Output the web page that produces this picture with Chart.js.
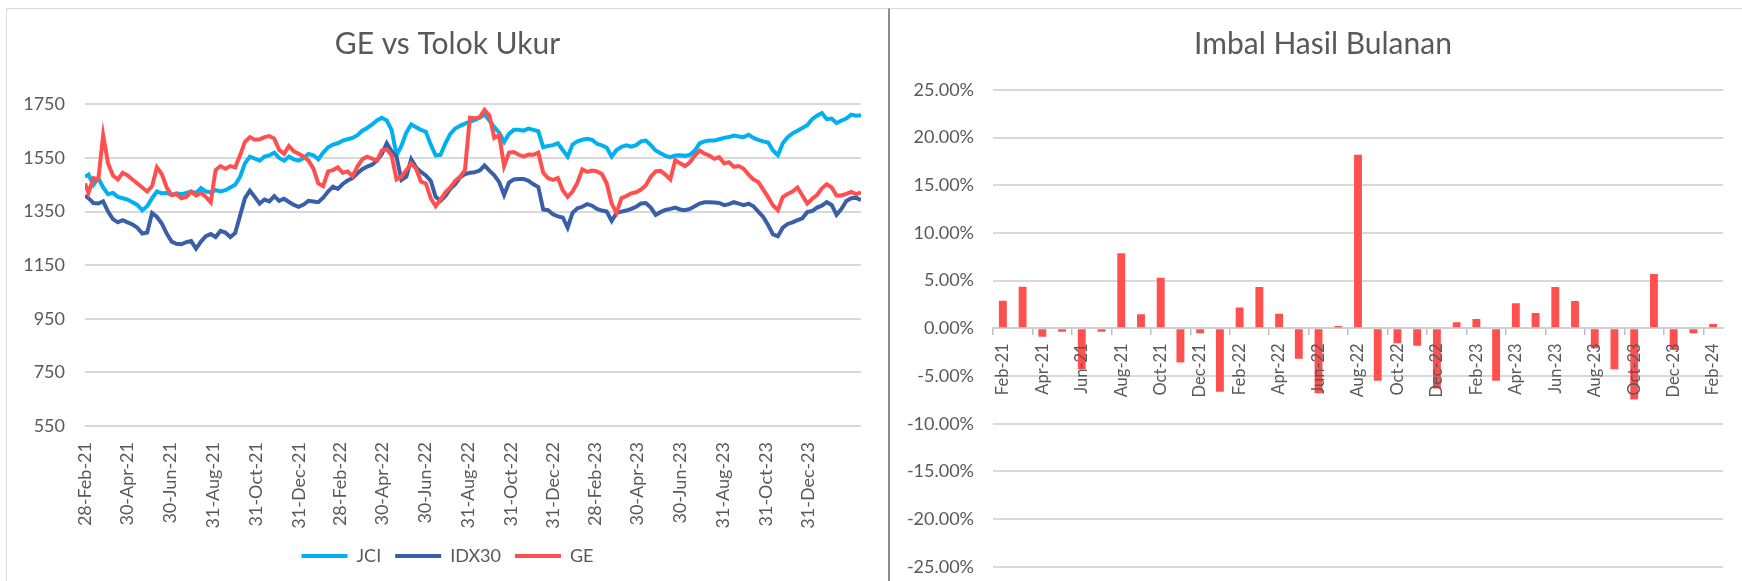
<!DOCTYPE html>
<html>
<head>
<meta charset="utf-8">
<title>GE vs Tolok Ukur</title>
<script src="https://cdn.jsdelivr.net/npm/chart.js@4.4.1/dist/chart.umd.min.js"></script>
<style>
  html, body { margin: 0; padding: 0; background: #fff; }
  body { width: 1742px; height: 581px; overflow: hidden; position: relative; }
  .panel { position: absolute; top: 8px; height: 700px; border-top: 1px solid #d9d9d9; background: #fff; }
  #leftPanel { left: 6px; width: 881px; border-left: 1px solid #d9d9d9; border-right: 1px solid #8c8c8c; }
  #rightPanel { left: 889px; width: 852px; border-left: 1px solid #8c8c8c; }
  canvas { display: block; }
</style>
</head>
<body>
<div class="panel" id="leftPanel"><canvas id="lineChart" width="881" height="572"></canvas></div>
<div class="panel" id="rightPanel"><canvas id="barChart" width="852" height="572"></canvas></div>
<script>
// weekly closes (first point = axis start)
const startDate = '2021-02-28';
const dates = ['2021-02-28',
  '2021-03-05','2021-03-12','2021-03-19','2021-03-26','2021-04-02','2021-04-09','2021-04-16','2021-04-23','2021-04-30','2021-05-07',
  '2021-05-14','2021-05-21','2021-05-28','2021-06-04','2021-06-11','2021-06-18','2021-06-25','2021-07-02','2021-07-09','2021-07-16',
  '2021-07-23','2021-07-30','2021-08-06','2021-08-13','2021-08-20','2021-08-27','2021-09-03','2021-09-10','2021-09-17','2021-09-24',
  '2021-10-01','2021-10-08','2021-10-15','2021-10-22','2021-10-29','2021-11-05','2021-11-12','2021-11-19','2021-11-26','2021-12-03',
  '2021-12-10','2021-12-17','2021-12-24','2021-12-31','2022-01-07','2022-01-14','2022-01-21','2022-01-28','2022-02-04','2022-02-11',
  '2022-02-18','2022-02-25','2022-03-04','2022-03-11','2022-03-18','2022-03-25','2022-04-01','2022-04-08','2022-04-15','2022-04-22',
  '2022-04-29','2022-05-06','2022-05-13','2022-05-20','2022-05-27','2022-06-03','2022-06-10','2022-06-17','2022-06-24','2022-07-01',
  '2022-07-08','2022-07-15','2022-07-22','2022-07-29','2022-08-05','2022-08-12','2022-08-19','2022-08-26','2022-09-02','2022-09-09',
  '2022-09-16','2022-09-23','2022-09-30','2022-10-07','2022-10-14','2022-10-21','2022-10-28','2022-11-04','2022-11-11','2022-11-18',
  '2022-11-25','2022-12-02','2022-12-09','2022-12-16','2022-12-23','2022-12-30','2023-01-06','2023-01-13','2023-01-20','2023-01-27',
  '2023-02-03','2023-02-10','2023-02-17','2023-02-24','2023-03-03','2023-03-10','2023-03-17','2023-03-24','2023-03-31','2023-04-07',
  '2023-04-14','2023-04-21','2023-04-28','2023-05-05','2023-05-12','2023-05-19','2023-05-26','2023-06-02','2023-06-09','2023-06-16',
  '2023-06-23','2023-06-30','2023-07-07','2023-07-14','2023-07-21','2023-07-28','2023-08-04','2023-08-11','2023-08-18','2023-08-25',
  '2023-09-01','2023-09-08','2023-09-15','2023-09-22','2023-09-29','2023-10-06','2023-10-13','2023-10-20','2023-10-27','2023-11-03',
  '2023-11-10','2023-11-17','2023-11-24','2023-12-01','2023-12-08','2023-12-15','2023-12-22','2023-12-29','2024-01-05','2024-01-12',
  '2024-01-19','2024-01-26','2024-02-02','2024-02-09','2024-02-16','2024-02-23','2024-03-01','2024-03-08','2024-03-15'];

const jci = [1480,
  1488,1450,1475,1440,1415,1420,1405,1400,1395,1385,
  1375,1355,1370,1400,1425,1418,1420,1412,1418,1415,
  1420,1425,1420,1438,1425,1422,1430,1425,1430,1440,
  1450,1480,1530,1555,1548,1540,1555,1560,1570,1550,
  1540,1555,1545,1540,1550,1565,1560,1545,1570,1590,
  1600,1605,1615,1620,1625,1635,1652,1662,1675,1690,
  1700,1690,1655,1560,1595,1645,1675,1665,1655,1648,
  1600,1560,1562,1605,1640,1660,1670,1678,1685,1692,
  1700,1712,1690,1665,1645,1610,1640,1655,1655,1652,
  1660,1655,1650,1590,1595,1598,1605,1580,1555,1600,
  1612,1618,1622,1618,1603,1597,1588,1555,1580,1592,
  1597,1592,1598,1612,1615,1598,1578,1568,1558,1553,
  1559,1560,1558,1562,1578,1605,1612,1615,1615,1620,
  1625,1628,1634,1630,1628,1637,1625,1618,1612,1608,
  1578,1560,1605,1628,1642,1652,1662,1672,1695,1708,
  1718,1695,1697,1680,1690,1697,1712,1708,1710];

const idx30 = [1410,
  1400,1382,1380,1388,1350,1322,1310,1318,1310,1302,
  1290,1268,1272,1345,1330,1305,1268,1238,1230,1228,
  1236,1240,1212,1238,1258,1266,1255,1278,1272,1255,
  1270,1335,1400,1428,1405,1380,1395,1388,1408,1390,
  1398,1386,1375,1368,1376,1390,1388,1385,1402,1425,
  1443,1435,1453,1466,1475,1493,1508,1518,1525,1540,
  1565,1605,1575,1555,1468,1480,1545,1515,1498,1485,
  1465,1405,1390,1408,1435,1452,1478,1490,1495,1497,
  1503,1522,1503,1485,1460,1412,1458,1470,1472,1472,
  1465,1452,1442,1358,1355,1340,1332,1328,1290,1345,
  1362,1368,1378,1372,1360,1354,1350,1315,1345,1350,
  1354,1360,1368,1380,1382,1365,1338,1348,1356,1360,
  1365,1358,1355,1360,1370,1380,1385,1385,1384,1382,
  1374,1378,1385,1380,1374,1380,1370,1350,1330,1300,
  1265,1258,1290,1304,1310,1318,1325,1348,1352,1365,
  1372,1385,1375,1338,1360,1390,1400,1402,1392];

const ge = [1455,
  1420,1475,1470,1635,1530,1485,1470,1495,1485,1470,
  1455,1440,1425,1445,1515,1490,1440,1412,1415,1400,
  1405,1425,1410,1420,1405,1385,1505,1520,1510,1520,
  1515,1560,1610,1628,1618,1620,1628,1632,1622,1580,
  1566,1595,1575,1566,1555,1540,1510,1455,1445,1500,
  1505,1515,1495,1500,1482,1518,1545,1555,1548,1540,
  1578,1582,1560,1470,1480,1505,1530,1510,1462,1455,
  1400,1370,1395,1422,1440,1465,1480,1505,1700,1698,
  1702,1730,1708,1625,1635,1520,1570,1572,1562,1555,
  1563,1562,1570,1495,1475,1468,1475,1430,1405,1425,
  1458,1508,1498,1503,1500,1490,1455,1380,1345,1400,
  1408,1418,1422,1432,1448,1480,1500,1502,1488,1470,
  1542,1530,1520,1534,1559,1578,1566,1559,1547,1553,
  1530,1534,1517,1520,1510,1488,1470,1460,1432,1404,
  1373,1355,1404,1416,1425,1440,1410,1380,1398,1412,
  1437,1452,1440,1410,1410,1416,1423,1415,1422];

const tickDates = ['2021-02-28','2021-04-30','2021-06-30','2021-08-31','2021-10-31','2021-12-31',
  '2022-02-28','2022-04-30','2022-06-30','2022-08-31','2022-10-31','2022-12-31',
  '2023-02-28','2023-04-30','2023-06-30','2023-08-31','2023-10-31','2023-12-31'];
const tickLabels = ['28-Feb-21','30-Apr-21','30-Jun-21','31-Aug-21','31-Oct-21','31-Dec-21',
  '28-Feb-22','30-Apr-22','30-Jun-22','31-Aug-22','31-Oct-22','31-Dec-22',
  '28-Feb-23','30-Apr-23','30-Jun-23','31-Aug-23','31-Oct-23','31-Dec-23'];

// monthly return of GE, in percent
const months = ['Feb-21','Mar-21','Apr-21','May-21','Jun-21','Jul-21','Aug-21','Sep-21','Oct-21','Nov-21','Dec-21',
  'Jan-22','Feb-22','Mar-22','Apr-22','May-22','Jun-22','Jul-22','Aug-22','Sep-22','Oct-22','Nov-22','Dec-22',
  'Jan-23','Feb-23','Mar-23','Apr-23','May-23','Jun-23','Jul-23','Aug-23','Sep-23','Oct-23','Nov-23','Dec-23',
  'Jan-24','Feb-24'];
const monthlyReturn = [2.90, 4.37, -0.87, -0.35, -4.30, -0.35, 7.87, 1.47, 5.31, -3.57, -0.52,
  -6.64, 2.20, 4.34, 1.54, -3.18, -6.80, 0.24, 18.20, -5.49, -1.57, -1.82, -6.30,
  0.63, 0.98, -5.49, 2.62, 1.61, 4.34, 2.87, -2.10, -4.30, -7.45, 5.70, -2.27,
  -0.52, 0.45];

const textColor = '#595959';
const gridColor = '#d9d9d9';
const font = 'Lato';

const dayOf = d => Math.round((Date.parse(d) - Date.parse(startDate)) / 86400000);
const points = arr => dates.map((d, i) => ({ x: dayOf(d), y: arr[i] }));

// empty right-hand axis, only used to hold the right margin of the plot
const spacer = width => ({
  position: 'right',
  display: true,
  grid: { display: false },
  border: { display: false },
  ticks: { display: false },
  afterFit: scale => { scale.width = width; }
});

new Chart(document.getElementById('lineChart'), {
  type: 'line',
  data: {
    datasets: [
      { label: 'JCI', data: points(jci), borderColor: '#00b0f0', backgroundColor: '#00b0f0', order: 3 },
      { label: 'IDX30', data: points(idx30), borderColor: '#3a5ea8', backgroundColor: '#3a5ea8', order: 2 },
      { label: 'GE', data: points(ge), borderColor: '#ff5050', backgroundColor: '#ff5050', order: 1 }
    ]
  },
  options: {
    responsive: false,
    animation: false,
    layout: { padding: { left: 0, right: 0, top: 0, bottom: 6 } },
    elements: {
      point: { radius: 0 },
      line: { borderWidth: 4, tension: 0 }
    },
    plugins: {
      title: {
        display: true,
        text: 'GE vs Tolok Ukur',
        color: textColor,
        font: { family: font, size: 30, weight: 'normal' },
        padding: { top: 17, bottom: 42.4 }
      },
      legend: {
        position: 'bottom',
        labels: {
          boxWidth: 46,
          boxHeight: 4,
          padding: 14,
          color: textColor,
          font: { family: font, size: 18 },
          sort: (a, b) => a.datasetIndex - b.datasetIndex,
          generateLabels: chart => Chart.defaults.plugins.legend.labels.generateLabels(chart)
            .map(item => Object.assign(item, { lineWidth: 0, fillStyle: item.strokeStyle }))
        }
      },
      tooltip: { enabled: false }
    },
    scales: {
      x: {
        type: 'linear',
        min: 0,
        max: dayOf(dates[dates.length - 1]),
        afterBuildTicks: scale => { scale.ticks = tickDates.map(d => ({ value: dayOf(d) })); },
        afterFit: scale => { scale.height = 107; },
        grid: { display: false },
        border: { display: false },
        ticks: {
          autoSkip: false,
          minRotation: 90,
          maxRotation: 90,
          padding: 8,
          color: textColor,
          font: { family: font, size: 18 },
          callback: (value, index) => tickLabels[index]
        }
      },
      y: {
        min: 550,
        max: 1750,
        afterFit: scale => { scale.width = 78; },
        grid: { color: gridColor, lineWidth: 2, drawTicks: false },
        border: { display: false },
        ticks: {
          stepSize: 200,
          padding: 20,
          color: textColor,
          font: { family: font, size: 18 },
          callback: v => String(v)
        }
      },
      yRight: spacer(27)
    }
  }
});

new Chart(document.getElementById('barChart'), {
  type: 'bar',
  data: {
    labels: months,
    datasets: [{
      label: 'Imbal Hasil Bulanan',
      data: monthlyReturn,
      backgroundColor: '#ff5050',
      barPercentage: 0.4,
      categoryPercentage: 1
    }]
  },
  options: {
    responsive: false,
    animation: false,
    layout: { padding: { left: 14, right: 0, top: 0, bottom: 14.3 } },
    plugins: {
      title: {
        display: true,
        text: 'Imbal Hasil Bulanan',
        color: textColor,
        font: { family: font, size: 30, weight: 'normal' },
        padding: { top: 17, bottom: 28 }
      },
      legend: { display: false },
      tooltip: { enabled: false }
    },
    scales: {
      x: {
        position: { y: 0 },
        afterFit: scale => { scale.height = 0; },
        grid: {
          drawOnChartArea: false,
          drawTicks: true,
          tickLength: 6,
          lineWidth: 1.5,
          tickColor: ctx => ctx.index % 2 === 0 ? '#bfbfbf' : 'rgba(0,0,0,0)'
        },
        border: { color: '#cfcfcf', width: 2 },
        ticks: {
          z: 1, // month labels sit on top of the bars
          autoSkip: false,
          minRotation: 90,
          maxRotation: 90,
          padding: 9,
          color: textColor,
          font: { family: font, size: 16.5 },
          callback: function (value, index) {
            return index % 2 === 0 ? this.getLabelForValue(value) : '';
          }
        }
      },
      y: {
        min: -25,
        max: 25,
        afterFit: scale => {
          scale.width = 89;
          // the last label may hang into the bottom margin
          scale.paddingBottom = 0;
        },
        grid: { color: gridColor, lineWidth: 2, drawTicks: false },
        border: { display: false },
        ticks: {
          stepSize: 5,
          padding: 19,
          color: textColor,
          font: { family: font, size: 18 },
          callback: v => v.toFixed(2) + '%'
        }
      },
      yRight: spacer(6)
    }
  }
});
</script>
</body>
</html>
